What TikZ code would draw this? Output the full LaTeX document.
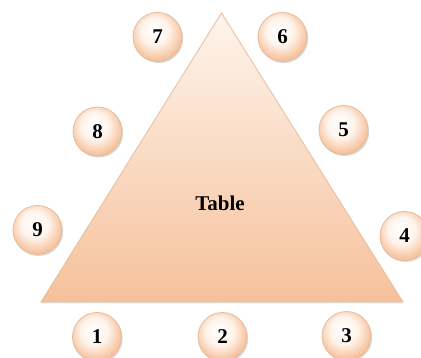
\documentclass[tikz,border=0pt]{standalone}
\usepackage{fontspec}
\setmainfont{Liberation Serif}
\usepackage{tikz}
\usetikzlibrary{shadows}
\definecolor{peach}{HTML}{F6C19B}
\definecolor{peachlight}{HTML}{FEF4EC}
\definecolor{peachline}{HTML}{E6BC9C}
\pgfdeclareradialshading{seatshade}{\pgfpoint{-4bp}{8bp}}{color(0bp)=(white); color(14bp)=(peachlight); color(27bp)=(peach); color(50bp)=(peach)}

\begin{document}
\begin{tikzpicture}[x=1pt, y=-1pt,
  seat/.style={circle, minimum size=49pt, inner sep=0pt, draw=peachline, line width=0.8pt,
    shading=seatshade,
    drop shadow={opacity=0.3, shadow xshift=1.2pt, shadow yshift=-1.5pt},
    font=\fontsize{21}{23}\selectfont\bfseries},
  tablebox/.style={draw=peachline, line width=0.8pt, top color=peachlight, bottom color=peach,
    drop shadow={opacity=0.2, shadow xshift=0pt, shadow yshift=-1.5pt}}]

  \useasboundingbox (0,0) rectangle (421,358);
  \clip (0,0) rectangle (421,358);

  % Define coordinates for the table
  \coordinate (apex) at (221.5, 13);
  \coordinate (left) at (41, 302);
  \coordinate (right) at (403, 302);
  \path[tablebox] (apex) -- (right) -- (left) -- cycle;
  \node[font=\fontsize{21}{23}\selectfont\bfseries] (table) at (220, 203) {Table};

  % Define coordinates for the seats
  \node[seat] (s1) at (97, 337) {1};
  \node[seat] (s2) at (222.5, 337) {2};
  \node[seat] (s3) at (346.5, 336) {3};
  \node[seat] (s4) at (404.5, 236) {4};
  \node[seat] (s5) at (343.5, 130) {5};
  \node[seat] (s6) at (282.5, 37) {6};
  \node[seat] (s7) at (157.5, 37) {7};
  \node[seat] (s8) at (97.5, 131.5) {8};
  \node[seat] (s9) at (37.5, 230) {9};
\end{tikzpicture}
\end{document}
